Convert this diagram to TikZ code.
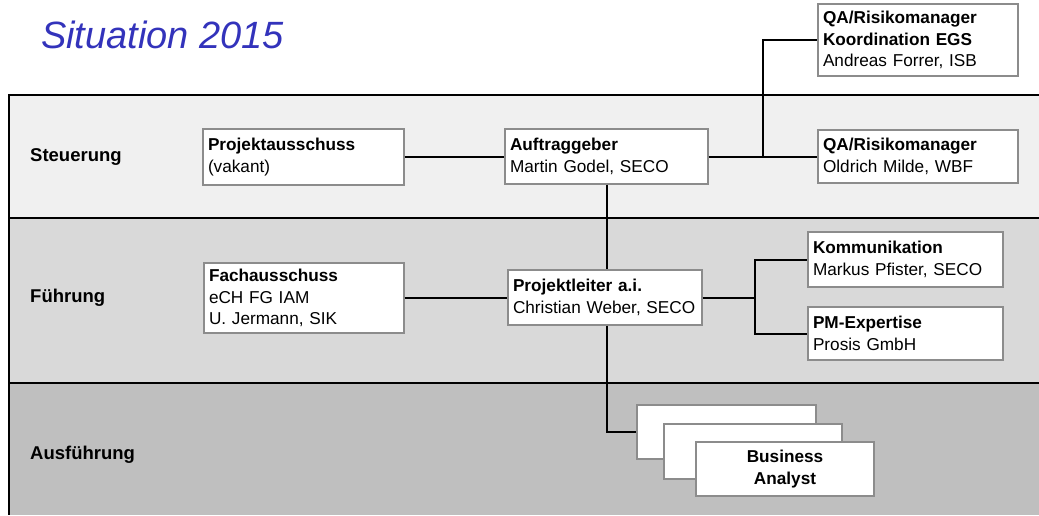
\documentclass[tikz,border=0pt]{standalone}
\usepackage{fontspec}
\setmainfont{Liberation Sans}
\usetikzlibrary{positioning}
\definecolor{titleblue}{RGB}{51,51,187}
\definecolor{boxgray}{RGB}{140,140,140}
\definecolor{steuerfill}{RGB}{240,240,240}
\definecolor{fuehrfill}{RGB}{217,217,217}
\definecolor{ausfill}{RGB}{191,191,191}

\begin{document}
\begin{tikzpicture}[x=1pt,y=-1pt,
  box/.style={draw=boxgray,fill=white,line width=1.2pt,inner sep=5pt,
    align=left,font=\fontsize{17.2}{21.5}\selectfont},
  level/.style={anchor=west,inner sep=0pt,font=\fontsize{18.5}{20}\selectfont\bfseries},
  link/.style={line width=2pt}]
  \useasboundingbox (0,0) rectangle (1039,515);

  % bands
  \fill[steuerfill] (9,95) rectangle (1039,218);
  \fill[fuehrfill] (9,218) rectangle (1039,383);
  \fill[ausfill] (9,383) rectangle (1039,515);
  \draw[line width=1.5pt] (1039,95) -- (9,95) -- (9,515);
  \draw[line width=1.5pt] (9,218) -- (1039,218);
  \draw[line width=1.5pt] (9,383) -- (1039,383);

  \node[anchor=base west,inner sep=0pt,text=titleblue,
    font=\fontsize{38}{42}\selectfont\itshape] (title) at (41,48) {Situation 2015};

  \node[level] (steuer) at (30,157) {Steuerung};
  \node[level] (fuehr) at (30,298) {Führung};
  \node[level] (ausf) at (30,455) {Ausführung};

  \node[box,text width=191pt,minimum height=56pt] (aus) at (303.5,157)
    {\textbf{Projektausschuss}\\(vakant)};
  \node[box,text width=193pt,minimum height=55pt] (ftr) at (606.5,156.5)
    {\textbf{Auftraggeber}\\Martin Godel, SECO};
  \node[box,text width=190pt,minimum height=53pt] (qaw) at (918,156.5)
    {\textbf{QA/Risikomanager}\\Oldrich Milde, WBF};
  \node[box,text width=190pt,minimum height=72pt] (qae) at (918,40)
    {\textbf{QA/Risikomanager}\\\textbf{Koordination EGS}\\Andreas Forrer, ISB};
  \node[box,text width=190pt,minimum height=70pt] (fach) at (304,298)
    {\textbf{Fachausschuss}\\eCH FG IAM\\U. Jermann, SIK};
  \node[box,text width=184pt,minimum height=55pt] (pl) at (605,297.5)
    {\textbf{Projektleiter a.i.}\\Christian Weber, SECO};
  \node[box,text width=185pt,minimum height=55pt] (kom) at (905.5,259.5)
    {\textbf{Kommunikation}\\Markus Pfister, SECO};
  \node[box,text width=185pt,minimum height=53pt] (pme) at (905.5,333.5)
    {\textbf{PM-Expertise}\\Prosis GmbH};

  \node[box,text width=169pt,minimum height=54pt] (ba1) at (726.5,432) {};
  \node[box,text width=168pt,minimum height=55pt] (ba2) at (753,451.5) {};
  \node[box,text width=168pt,minimum height=54pt,align=center] (ba3) at (785,469)
    {\textbf{Business}\\\textbf{Analyst}};

  \coordinate (jq) at (763,156.5);
  \coordinate (jk) at (755,297.5);

  \draw[link] (aus.east) -- (aus.east -| ftr.west);
  \draw[link] (ftr.east) -- (qaw.west);
  \draw[link] (jq) |- (qae.west);
  \draw[link] (ftr.south) -- (ftr.south |- pl.north);
  \draw[link] (fach.east) -- (fach.east -| pl.west);
  \draw[link] (pl.east) -- (jk);
  \draw[link] (jk) |- (kom.west);
  \draw[link] (jk) |- (pme.west);
  \draw[link] (ftr.south |- pl.south) |- (ba1.west);
\end{tikzpicture}
\end{document}
